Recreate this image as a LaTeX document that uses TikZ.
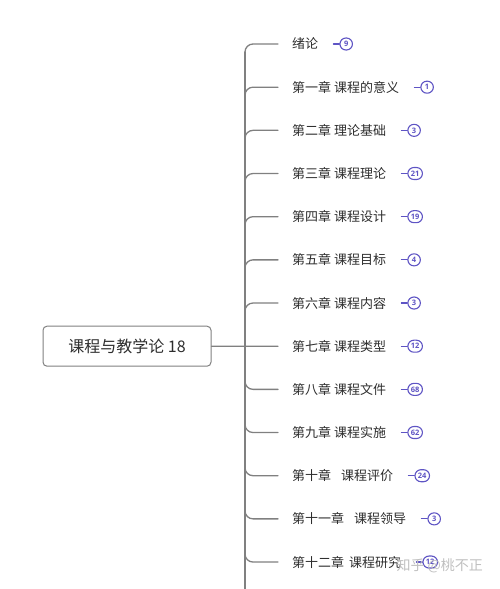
\documentclass[tikz,border=0pt]{standalone}
\usepackage{fontspec}
\setmainfont{Noto Sans CJK SC}
\newfontfamily\badgefont{Open Sans}
\usetikzlibrary{positioning}
\definecolor{linegray}{RGB}{128,128,128}
\definecolor{textgray}{RGB}{45,45,45}
\definecolor{badgeblue}{RGB}{94,84,196}

\begin{document}
\begin{tikzpicture}[x=1pt, y=-1pt, line cap=round, line join=round,
    branch/.style={draw=linegray, line width=1.3pt, rounded corners=8pt},
    topic/.style={anchor=west, inner sep=0pt, text=textgray, font=\fontsize{13}{15}\selectfont},
    badge/.style={draw=badgeblue, fill=white, line width=1.1pt, rounded corners=6pt,
      minimum height=12pt, minimum width=12.5pt, inner xsep=3pt, inner ysep=0pt,
      text=badgeblue, font=\badgefont\bfseries\fontsize{7.5}{8}\selectfont}]
    \useasboundingbox (0,0) rectangle (500,589);

    % central topic
    \node[draw=linegray, line width=1pt, rounded corners=4pt, minimum width=168pt,
      minimum height=40pt, text=textgray, font=\fontsize{16}{18}\selectfont]
      (root) at (127,346.2) {课程与教学论 18};

    % trunk
    \coordinate (trunktop) at (245,52);
    \coordinate (trunkend) at (245,589);
    \draw[branch] (trunktop) -- (trunkend);

    % chapters with their counts
    \foreach \i/\lab/\n in {1/绪论/9, 2/第一章 课程的意义/1, 3/第二章 理论基础/3,
        4/第三章 课程理论/21, 5/第四章 课程设计/19, 6/第五章 课程目标/4,
        7/第六章 课程内容/3, 8/第七章 课程类型/12, 9/第八章 课程文件/68,
        10/第九章 课程实施/62, 11/第十章\hspace{10pt}课程评价/24,
        12/第十一章\hspace{10pt}课程领导/3, 13/第十二章\hspace{5pt}课程研究/12} {
      \pgfmathsetmacro{\yy}{44+(\i-1)*43.17}
      \node[topic] (t\i) at (292,\yy) {\lab};
      \node[badge, right=21pt of t\i] (b\i) {\n};
      \draw[badgeblue, line width=1.1pt] (b\i.west) -- ++(-6pt,0);
      \ifnum\i<8
        \draw[branch] (245,\yy+14) -- (245,\yy) -- ([xshift=-14pt]t\i.west);
      \fi
      \ifnum\i>8
        \draw[branch] (245,\yy-14) -- (245,\yy) -- ([xshift=-14pt]t\i.west);
      \fi
    }
    \draw[branch] (root.east) -- ([xshift=-14pt]t8.west);

    % watermark
    \node[anchor=west, text=gray!50, font=\fontsize{14}{16}\selectfont]
      (mark) at (393,566) {知乎 @桃不正};
\end{tikzpicture}
\end{document}
